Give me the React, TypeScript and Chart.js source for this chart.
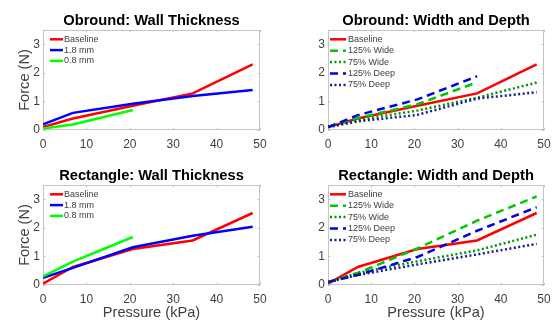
import React, { useEffect, useRef } from 'react';
import { Chart, registerables } from 'chart.js';

Chart.register(...registerables);

const FONT = '"Liberation Sans", Arial, Helvetica, sans-serif';

// ---- data ----
const pressure = [0, 6.9, 20.7, 34.5, 48.3];
const xTicks = [0, 10, 20, 30, 40, 50];
const yTicks = [0, 1, 2, 3];

const obBaseline = [0.1, 0.4, 0.85, 1.28, 2.3];
const obWall18 = [0.2, 0.6, 0.92, 1.19, 1.4];
const obWall08 = [0.05, 0.19, 0.7];
const obWide125 = [0.1, 0.42, 0.9, 1.67];
const obWide75 = [0.1, 0.35, 0.68, 1.13, 1.66];
const obDeep125 = [0.1, 0.52, 1.07, 1.88];
const obDeep75 = [0.1, 0.3, 0.53, 1.1, 1.32];

const rectBaseline = [0.05, 0.63, 1.26, 1.56, 2.52];
const rectWall18 = [0.25, 0.6, 1.32, 1.72, 2.04];
const rectWall08 = [0.3, 0.82, 1.68];
const rectWide125 = [0.1, 0.42, 1.28, 2.25, 3.1];
const rectWide75 = [0.1, 0.42, 0.83, 1.21, 1.76];
const rectDeep125 = [0.1, 0.35, 0.98, 1.9, 2.72];
const rectDeep75 = [0.1, 0.35, 0.72, 1.07, 1.44];

const wallLabels = ['Baseline', '1.8 mm', '0.8 mm'];
const wdLabels = ['Baseline', '125% Wide', '75% Wide', '125% Deep', '75% Deep'];

const titles = [
  'Obround: Wall Thickness',
  'Obround: Width and Depth',
  'Rectangle: Wall Thickness',
  'Rectangle: Width and Depth',
];

// ---- styles ----
type Style = { color: string; dash: number[] };
const S_RED: Style = { color: '#ff0000', dash: [] };
const S_BLUE: Style = { color: '#0000ff', dash: [] };
const S_GREEN: Style = { color: '#00ff00', dash: [] };
const S_GDASH: Style = { color: '#00c800', dash: [8, 5] };
const S_GDOT: Style = { color: '#009600', dash: [2, 2.5] };
const S_BDASH: Style = { color: '#0000e6', dash: [8, 5] };
const S_BDOT: Style = { color: '#1a1a9a', dash: [2, 2.5] };

type Panel = {
  title: string;
  labels: string[];
  values: number[][];
  styles: Style[];
  pos: { left: number; top: number; w: number; h: number };
  area: { left: number; top: number; right: number; bottom: number };
  showX: boolean;
  showY: boolean;
  legend: { sx0: number; sx1: number; tx: number; y0: number; gap: number };
};

const wallLegend = { sx0: 7, sx1: 20, tx: 21, y0: 9.3, gap: 10.8 };
const wdLegend = { sx0: 2, sx1: 18, tx: 20, y0: 9.3, gap: 11.4 };

const panels: Panel[] = [
  {
    title: titles[0], labels: wallLabels,
    values: [obBaseline, obWall18, obWall08],
    styles: [S_RED, S_BLUE, S_GREEN],
    pos: { left: 0, top: 0, w: 279, h: 160 },
    area: { left: 43, top: 30, right: 260, bottom: 130 },
    showX: false, showY: true, legend: wallLegend,
  },
  {
    title: titles[1], labels: wdLabels,
    values: [obBaseline, obWide125, obWide75, obDeep125, obDeep75],
    styles: [S_RED, S_GDASH, S_GDOT, S_BDASH, S_BDOT],
    pos: { left: 279, top: 0, w: 279, h: 160 },
    area: { left: 49, top: 30, right: 265, bottom: 130 },
    showX: false, showY: false, legend: wdLegend,
  },
  {
    title: titles[2], labels: wallLabels,
    values: [rectBaseline, rectWall18, rectWall08],
    styles: [S_RED, S_BLUE, S_GREEN],
    pos: { left: 0, top: 160, w: 279, h: 163 },
    area: { left: 43, top: 25, right: 260, bottom: 125 },
    showX: true, showY: true, legend: wallLegend,
  },
  {
    title: titles[3], labels: wdLabels,
    values: [rectBaseline, rectWide125, rectWide75, rectDeep125, rectDeep75],
    styles: [S_RED, S_GDASH, S_GDOT, S_BDASH, S_BDOT],
    pos: { left: 279, top: 160, w: 279, h: 163 },
    area: { left: 49, top: 25, right: 265, bottom: 125 },
    showX: true, showY: false, legend: wdLegend,
  },
];

const decorPlugin = {
  id: 'panelDecor',
  beforeDatasetsDraw(chart: any) {
    const { ctx, chartArea: a, scales } = chart;
    ctx.save();
    ctx.strokeStyle = '#c4c4c4';
    ctx.lineWidth = 1;
    ctx.strokeRect(a.left + 0.5, a.top + 0.5, a.right - a.left - 1, a.bottom - a.top - 1);
    const tl = 2.5;
    ctx.beginPath();
    xTicks.forEach((v) => {
      const px = Math.round(scales.x.getPixelForValue(v)) + 0.5;
      ctx.moveTo(px, a.bottom);
      ctx.lineTo(px, a.bottom - tl);
      ctx.moveTo(px, a.top);
      ctx.lineTo(px, a.top + tl);
    });
    yTicks.forEach((v) => {
      const py = Math.round(scales.y.getPixelForValue(v)) + 0.5;
      ctx.moveTo(a.left, py);
      ctx.lineTo(a.left + tl, py);
      ctx.moveTo(a.right, py);
      ctx.lineTo(a.right - tl, py);
    });
    ctx.stroke();
    ctx.restore();
  },
  afterDraw(chart: any, _args: any, opts: any) {
    const { ctx, chartArea: a } = chart;
    ctx.save();
    // title
    ctx.fillStyle = '#000000';
    ctx.font = `bold 14.7px ${FONT}`;
    ctx.textAlign = 'center';
    ctx.textBaseline = 'alphabetic';
    ctx.fillText(opts.title, (a.left + a.right) / 2, a.top - 5);
    // legend
    const lg = opts.legend;
    chart.data.datasets.forEach((ds: any, i: number) => {
      const y = a.top + lg.y0 + i * lg.gap;
      ctx.beginPath();
      ctx.strokeStyle = ds.borderColor;
      ctx.lineWidth = ds.borderWidth;
      ctx.setLineDash(ds.borderDash || []);
      ctx.moveTo(a.left + lg.sx0, y);
      ctx.lineTo(a.left + lg.sx1, y);
      ctx.stroke();
      ctx.setLineDash([]);
      ctx.fillStyle = '#404040';
      ctx.font = `9px ${FONT}`;
      ctx.textAlign = 'left';
      ctx.textBaseline = 'middle';
      ctx.fillText(ds.label, a.left + lg.tx, y);
    });
    ctx.restore();
  },
};

function PanelChart({ p }: { p: Panel }) {
  const ref = useRef<HTMLCanvasElement | null>(null);
  useEffect(() => {
    if (!ref.current) return;
    const n = p.values.length;
    const datasets = p.values.map((vals, i) => ({
      label: p.labels[i],
      data: vals.map((v, j) => ({ x: pressure[j], y: v })),
      borderColor: p.styles[i].color,
      backgroundColor: p.styles[i].color,
      borderDash: p.styles[i].dash,
      borderWidth: 2.5,
      pointRadius: 0,
      fill: false,
      tension: 0,
      order: n - i,
    }));
    const tickFont = { family: FONT, size: 12 };
    const chart = new Chart(ref.current, {
      type: 'line',
      data: { datasets },
      plugins: [decorPlugin],
      options: {
        animation: false,
        responsive: false,
        events: [],
        layout: {
          padding: { left: 0, top: p.area.top, right: p.pos.w - p.area.right, bottom: 0 },
        },
        plugins: {
          legend: { display: false },
          tooltip: { enabled: false },
          title: { display: false },
          panelDecor: { title: p.title, legend: p.legend },
        } as any,
        scales: {
          x: {
            type: 'linear',
            min: 0,
            max: 50,
            afterBuildTicks: (s: any) => { s.ticks = xTicks.map((v) => ({ value: v })); },
            afterFit: (s: any) => { s.height = p.pos.h - p.area.bottom; },
            grid: { display: false, drawTicks: false },
            border: { display: false },
            ticks: { font: tickFont, color: '#404040', padding: 7, maxRotation: 0, autoSkip: false },
            title: {
              display: p.showX, text: 'Pressure (kPa)', color: '#404040',
              font: { family: FONT, size: 14.6 }, padding: { top: 0, bottom: 1 },
            },
          },
          y: {
            type: 'linear',
            min: 0,
            max: 3.5,
            afterBuildTicks: (s: any) => { s.ticks = yTicks.map((v) => ({ value: v })); },
            afterFit: (s: any) => { s.width = p.area.left; },
            grid: { display: false, drawTicks: false },
            border: { display: false },
            ticks: { font: tickFont, color: '#404040', padding: 3 },
            title: {
              display: p.showY, text: 'Force (N)', color: '#404040',
              font: { family: FONT, size: 14.6 }, padding: { top: 16, bottom: 0 },
            },
          },
        },
      } as any,
    });
    return () => chart.destroy();
  }, [p]);
  return (
    <canvas
      ref={ref}
      width={p.pos.w}
      height={p.pos.h}
      style={{ position: 'absolute', left: p.pos.left, top: p.pos.top, width: p.pos.w, height: p.pos.h }}
    />
  );
}

export default function App() {
  return (
    <div style={{ position: 'fixed', left: 0, top: 0, width: 558, height: 323, background: '#ffffff', overflow: 'hidden' }}>
      {panels.map((p, i) => (
        <PanelChart key={i} p={p} />
      ))}
    </div>
  );
}
